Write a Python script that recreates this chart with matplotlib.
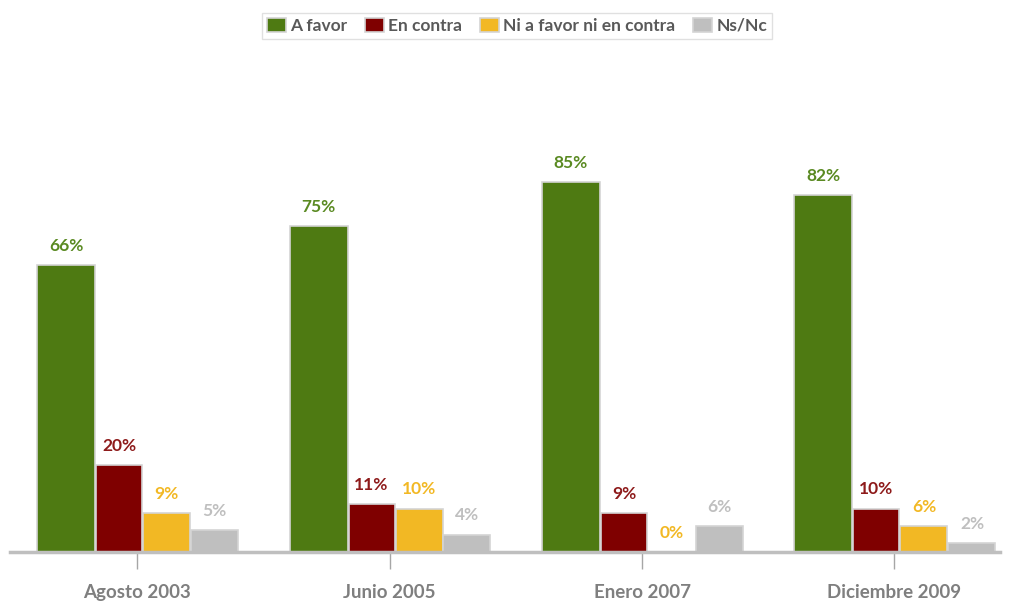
import matplotlib.pyplot as plt
import numpy as np

plt.rcParams['font.family'] = ['Lato', 'DejaVu Sans']

# data
categories = ['Agosto 2003', 'Junio 2005', 'Enero 2007', 'Diciembre 2009']
series = ['A favor', 'En contra', 'Ni a favor ni en contra', 'Ns/Nc']
a_favor = [66, 75, 85, 82]
en_contra = [20, 11, 9, 10]
ni_ni = [9, 10, 0, 6]
ns_nc = [5, 4, 6, 2]
values = [a_favor, en_contra, ni_ni, ns_nc]

# styles
bar_colors = ['#4E7A12', '#7F0000', '#F2B824', '#BFBFBF']
label_colors = ['#5A8A22', '#8E1B1B', '#F2B824', '#BFBFBF']
group_px = 252.5
offsets = [-71, -18, 29.5, 77.5]   # bar centre offset from group centre, px
widths = [58, 46, 47, 47]          # bar widths, px

fig = plt.figure(figsize=(10.09, 6.01), dpi=100)
ax = fig.add_axes([10/1009, 49/601, 990/1009, 435/601])

x = np.arange(len(categories))
handles = []
for k in range(len(series)):
    b = ax.bar(x + offsets[k]/group_px, values[k], width=widths[k]/group_px,
               color=bar_colors[k], edgecolor='#D4D4D4', linewidth=1.2, label=series[k])
    handles.append(b)
    for xi, v in zip(x + offsets[k]/group_px, values[k]):
        ax.annotate(f'{v}%', (xi, v), xytext=(0, 8), textcoords='offset points',
                    ha='center', va='bottom', fontsize=12.5, fontweight='bold',
                    color=label_colors[k])

ax.set_xlim(-(137-10)/group_px, (1000-137)/group_px)
ax.set_ylim(0, 100)
ax.set_yticks([])
for s in ['top', 'right', 'left']:
    ax.spines[s].set_visible(False)
ax.spines['bottom'].set_color('#BFBFBF')
ax.spines['bottom'].set_linewidth(2.5)
ax.set_xticks(x)
ax.set_xticklabels(categories, fontsize=13.5, fontweight='bold', color='#7F7F7F')
ax.tick_params(axis='x', length=12, width=1, color='#A6A6A6', pad=11)

leg = fig.legend(handles=handles, labels=series, loc='upper center',
                 bbox_to_anchor=(517/1009, 1 - 4/601), ncol=4, frameon=True,
                 fancybox=False, edgecolor='#D9D9D9', fontsize=12.5,
                 handlelength=1.1, handleheight=0.85, handletextpad=0.25,
                 columnspacing=1.0, borderpad=0.3)
for t in leg.get_texts():
    t.set_color('#595959')
    t.set_fontweight('bold')

fig.savefig('out.png', dpi=100)
